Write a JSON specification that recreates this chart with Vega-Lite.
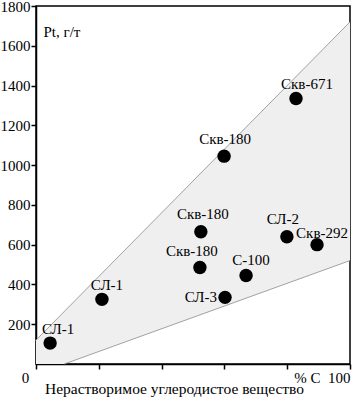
{
  "$schema": "https://vega.github.io/schema/vega-lite/v6.json",
  "width": 314,
  "height": 358,
  "autosize": {"type": "none"},
  "padding": {"left": 36, "top": 6, "right": 11, "bottom": 33},
  "config": {
    "view": {"stroke": "black", "strokeWidth": 1.5},
    "font": "Liberation Serif",
    "axis": {
      "grid": false,
      "domainColor": "black",
      "domainWidth": 1.5,
      "tickColor": "black",
      "tickWidth": 1.5,
      "tickSize": 5,
      "labelColor": "black",
      "labelFont": "Liberation Serif",
      "labelFontSize": 15,
      "labelPadding": 1,
      "titleFont": "Liberation Serif",
      "titleFontSize": 15,
      "titleFontWeight": "normal",
      "titleColor": "black"
    }
  },
  "datasets": {
    "zone": [
      {"x": 0, "upper": 120, "lower": 0},
      {"x": 9, "upper": 264, "lower": 0},
      {"x": 100, "upper": 1720, "lower": 520}
    ],
    "bounds": [
      {"x1": 0, "y1": 120, "x2": 100, "y2": 1720},
      {"x1": 9, "y1": 0, "x2": 100, "y2": 520}
    ],
    "samples": [
      {"id": 1, "name": "СЛ-1", "c": 4.5, "pt": 105},
      {"id": 2, "name": "СЛ-1", "c": 21, "pt": 325},
      {"id": 3, "name": "Скв-180", "c": 59.9, "pt": 1045},
      {"id": 4, "name": "Скв-671", "c": 82.8, "pt": 1335},
      {"id": 5, "name": "Скв-180", "c": 52.5, "pt": 665},
      {"id": 6, "name": "Скв-180", "c": 52.2, "pt": 485},
      {"id": 7, "name": "С-100", "c": 66.9, "pt": 445},
      {"id": 8, "name": "СЛ-3", "c": 60.2, "pt": 335},
      {"id": 9, "name": "СЛ-2", "c": 79.9, "pt": 640},
      {"id": 10, "name": "Скв-292", "c": 89.5, "pt": 600}
    ]
  },
  "layer": [
    {
      "data": {"name": "zone"},
      "mark": {"type": "area", "color": "#efefef", "opacity": 1},
      "encoding": {
        "x": {
          "field": "x", "type": "quantitative",
          "title": "Нерастворимое углеродистое вещество",
          "scale": {"domain": [0, 100], "nice": false, "zero": false},
          "axis": {
            "values": [0, 10, 20, 30, 40, 50, 60, 70, 80, 90, 100],
            "labelExpr": "datum.value == 100 ? '% C\u00a0\u00a0100' : (datum.value == 50 || datum.value == 0 ? datum.label : '')",
            "labelAlign": {"condition": {"test": "datum.value == 100", "value": "right"}, "value": "center"},
            "labelOffset": {"condition": {"test": "datum.value == 0", "value": -11}, "value": 0},
            "labelFlush": false,
            "labelOverlap": false,
            "titleFontSize": 15.5,
            "titleX": 138,
            "titleY": 29,
            "titleBaseline": "alphabetic"
          }
        },
        "y": {
          "field": "upper", "type": "quantitative",
          "title": "Pt, г/т",
          "scale": {"domain": [0, 1800], "nice": false},
          "axis": {
            "values": [200, 400, 600, 800, 1000, 1200, 1400, 1600, 1800],
            "format": "d",
            "titleAngle": 0,
            "titleAlign": "left",
            "titleBaseline": "alphabetic",
            "titleX": 7,
            "titleY": 30,
            "labelFlush": false,
            "labelOverlap": false
          }
        },
        "y2": {"field": "lower"}
      }
    },
    {
      "data": {"name": "bounds"},
      "mark": {"type": "rule", "color": "#8c8c8c", "strokeWidth": 0.8},
      "encoding": {
        "x": {"field": "x1", "type": "quantitative", "title": "Нерастворимое углеродистое вещество"},
        "y": {"field": "y1", "type": "quantitative", "title": "Pt, г/т"},
        "x2": {"field": "x2"},
        "y2": {"field": "y2"}
      }
    },
    {
      "data": {"name": "samples"},
      "encoding": {
        "x": {"field": "c", "type": "quantitative", "title": "Нерастворимое углеродистое вещество"},
        "y": {"field": "pt", "type": "quantitative", "title": "Pt, г/т"},
        "text": {"field": "name"}
      },
      "layer": [
        {"mark": {"type": "circle", "size": 180, "color": "black", "opacity": 1}},
        {"transform": [{"filter": "datum.id == 1"}], "mark": {"type": "text", "fontSize": 15, "color": "black", "dx": 8, "dy": -14}},
        {"transform": [{"filter": "datum.id == 2"}], "mark": {"type": "text", "fontSize": 15, "color": "black", "dx": 5, "dy": -14}},
        {"transform": [{"filter": "datum.id == 3"}], "mark": {"type": "text", "fontSize": 15, "color": "black", "dx": 1, "dy": -17}},
        {"transform": [{"filter": "datum.id == 4"}], "mark": {"type": "text", "fontSize": 15, "color": "black", "dx": 11, "dy": -14}},
        {"transform": [{"filter": "datum.id == 5"}], "mark": {"type": "text", "fontSize": 15, "color": "black", "dx": 2, "dy": -18}},
        {"transform": [{"filter": "datum.id == 6"}], "mark": {"type": "text", "fontSize": 15, "color": "black", "dx": -8, "dy": -17}},
        {"transform": [{"filter": "datum.id == 7"}], "mark": {"type": "text", "fontSize": 15, "color": "black", "dx": 5, "dy": -15}},
        {"transform": [{"filter": "datum.id == 8"}], "mark": {"type": "text", "fontSize": 15, "color": "black", "align": "right", "dx": -8, "dy": 0}},
        {"transform": [{"filter": "datum.id == 9"}], "mark": {"type": "text", "fontSize": 15, "color": "black", "dx": -4, "dy": -18}},
        {"transform": [{"filter": "datum.id == 10"}], "mark": {"type": "text", "fontSize": 15, "color": "black", "dx": 5, "dy": -12}}
      ]
    }
  ]
}
